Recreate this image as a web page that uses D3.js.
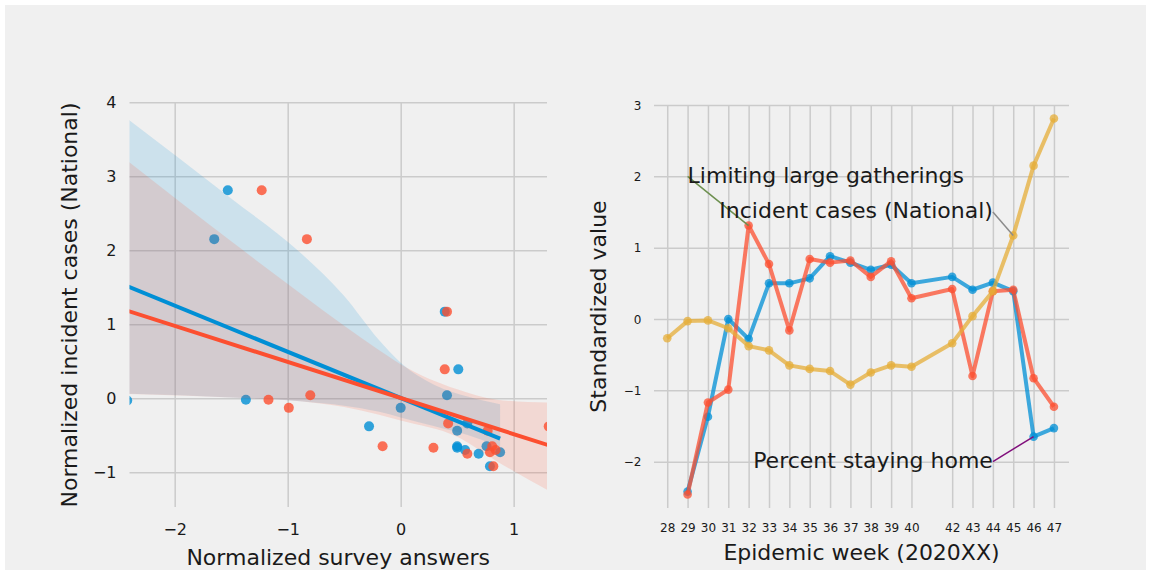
<!DOCTYPE html>
<html><head><meta charset="utf-8">
<script src="https://cdn.jsdelivr.net/npm/d3@7"></script>
<style>
body{margin:0;background:#fff}
svg{display:block}
text{font-family:"DejaVu Sans",sans-serif;fill:#1a1a1a}
</style>
</head><body>
<svg id="c" width="1151" height="575"></svg>
<script>
// ---------------- data ----------------
const weeks = [28,29,30,31,32,33,34,35,36,37,38,39,40,42,43,44,45,46,47];
const incidentCases = [-0.27,-0.03,-0.02,-0.13,-0.38,-0.44,-0.65,-0.70,-0.73,-0.92,-0.75,-0.65,-0.67,-0.34,0.04,0.39,1.17,2.15,2.81];
const stayingHome = [null,-2.42,-1.37,0.00,-0.28,0.50,0.50,0.57,0.88,0.79,0.69,0.76,0.50,0.59,0.41,0.51,0.39,-1.65,-1.53];
const limitingGatherings = [null,-2.46,-1.17,-0.99,1.31,0.77,-0.16,0.84,0.79,0.82,0.59,0.81,0.29,0.42,-0.80,0.39,0.41,-0.83,-1.23];

const weekTicks = [28,29,30,31,32,33,34,35,36,37,38,39,40,42,43,44,45,46,47];
const rightYTicks = [-2,-1,0,1,2,3];
const leftXTicks = [-2,-1,0,1];
const leftYTicks = [-1,0,1,2,3,4];

// 95% confidence bands of the fits
const blueBandX  = [-2.42,-1.5,-0.89,-0.5,-0.2,0.0,0.3,0.6,0.88];
const blueBandHi = [3.78,2.70,1.97,1.38,0.80,0.48,0.18,0.02,-0.08];
const blueBandLo = [0.06,0.01,-0.04,-0.10,-0.18,-0.26,-0.38,-0.50,-0.66];
const redBandX   = [-2.46,-1.5,-0.89,-0.5,-0.2,0.0,0.5,0.85,1.31];
const redBandHi  = [3.26,2.12,1.42,0.98,0.66,0.46,0.12,-0.02,-0.06];
const redBandLo  = [0.06,0.01,-0.04,-0.12,-0.22,-0.30,-0.52,-0.85,-1.25];

const annotations = [
  {text:"Limiting large gatherings", tx:29, ty:2, anchor:"start", week:32, series:"limiting", color:"#6d904f"},
  {text:"Incident cases (National)", tx:44, ty:1.5, anchor:"end", week:45, series:"incident", color:"#8b8b8b"},
  {text:"Percent staying home", tx:44, ty:-2, anchor:"end", week:46, series:"staying", color:"#810f7c"}
];

const BLUE = "#008fd5", RED = "#fc4f30", YELLOW = "#e5ae38", GRID = "#cbcbcb";
const minus = v => String(v).replace("-", "\u2212");

const svg = d3.select("#c");
svg.append("rect").attr("x",5).attr("y",5).attr("width",1141).attr("height",565).attr("fill","#f0f0f0");

// ---------------- left panel ----------------
const L = {x0:129.5, x1:547, y0:103, y1:507};
const lx = d3.scaleLinear().domain([-2.40, 1.295]).range([L.x0, L.x1]);
const ly = d3.scaleLinear().domain([-1.47, 3.99]).range([L.y1, L.y0]);

svg.append("clipPath").attr("id","clipL").append("rect")
  .attr("x",L.x0).attr("y",L.y0).attr("width",L.x1-L.x0).attr("height",L.y1-L.y0);

const gL = svg.append("g");
const axLX = gL.append("g").attr("transform",`translate(0,${L.y1})`)
  .call(d3.axisBottom(lx).tickValues(leftXTicks).tickSize(-(L.y1-L.y0)).tickFormat(minus));
const axLY = gL.append("g").attr("transform",`translate(${L.x0},0)`)
  .call(d3.axisLeft(ly).tickValues(leftYTicks).tickSize(-(L.x1-L.x0)).tickFormat(minus));
[axLX, axLY].forEach(a => {
  a.select(".domain").remove();
  a.selectAll("line").attr("stroke",GRID).attr("stroke-width",1.5);
  a.selectAll("text").attr("font-size",16).attr("fill","#1a1a1a").attr("font-family","DejaVu Sans");
});
axLX.selectAll("text").attr("y",28).attr("dy",0);
axLY.selectAll("text").attr("x",-13).attr("dy","0.34em");

const plotL = gL.append("g").attr("clip-path","url(#clipL)");

function pairs(vals){
  const out = [];
  weeks.forEach((w,i)=>{ if(vals[i]!==null) out.push({x:vals[i], y:incidentCases[i]}); });
  return out;
}
function ols(pts){
  const mx = d3.mean(pts,d=>d.x), my = d3.mean(pts,d=>d.y);
  const sxy = d3.sum(pts,d=>(d.x-mx)*(d.y-my)), sxx = d3.sum(pts,d=>(d.x-mx)**2);
  const b = sxy/sxx; return {b, a: my - b*mx};
}
const bluePts = pairs(stayingHome), redPts = pairs(limitingGatherings);
const band = d3.area().curve(d3.curveMonotoneX).x(d=>lx(d.x)).y0(d=>ly(d.lo)).y1(d=>ly(d.hi));

function drawSeries(pts, color, bx, bhi, blo){
  plotL.append("g").selectAll("circle").data(pts).join("circle")
    .attr("cx",d=>lx(d.x)).attr("cy",d=>ly(d.y)).attr("r",5)
    .attr("fill",color).attr("fill-opacity",0.8);
  const bd = bx.map((x,i)=>({x, hi:bhi[i], lo:blo[i]}));
  plotL.append("path").datum(bd).attr("d",band).attr("fill",color).attr("fill-opacity",0.15);
}
drawSeries(bluePts, BLUE, blueBandX, blueBandHi, blueBandLo);
drawSeries(redPts, RED, redBandX, redBandHi, redBandLo);
[[bluePts,BLUE],[redPts,RED]].forEach(([pts,color])=>{
  const f = ols(pts), ext = d3.extent(pts,d=>d.x);
  plotL.append("line")
    .attr("x1",lx(ext[0])).attr("y1",ly(f.a+f.b*ext[0]))
    .attr("x2",lx(ext[1])).attr("y2",ly(f.a+f.b*ext[1]))
    .attr("stroke",color).attr("stroke-width",4);
});

svg.append("text").attr("x",(L.x0+L.x1)/2).attr("y",565).attr("text-anchor","middle")
  .attr("font-size",22).text("Normalized survey answers");
svg.append("text").attr("transform",`translate(77,${(L.y0+L.y1)/2}) rotate(-90)`)
  .attr("text-anchor","middle").attr("font-size",22).text("Normalized incident cases (National)");

// ---------------- right panel ----------------
const R = {x0:654, x1:1069, y0:105, y1:508};
const rx = d3.scaleLinear().domain([27.35, 47.74]).range([R.x0, R.x1]);
const ry = d3.scaleLinear().domain([-2.65, 3.0]).range([R.y1, R.y0]);
const gR = svg.append("g");
const axRX = gR.append("g").attr("transform",`translate(0,${R.y1})`)
  .call(d3.axisBottom(rx).tickValues(weekTicks).tickSize(-(R.y1-R.y0)).tickFormat(d=>String(d)));
const axRY = gR.append("g").attr("transform",`translate(${R.x0},0)`)
  .call(d3.axisLeft(ry).tickValues(rightYTicks).tickSize(-(R.x1-R.x0)).tickFormat(minus));
[axRX, axRY].forEach(a => {
  a.select(".domain").remove();
  a.selectAll("line").attr("stroke",GRID).attr("stroke-width",1.5);
  a.selectAll("text").attr("font-size",12).attr("fill","#1a1a1a").attr("font-family","DejaVu Sans");
});
axRX.selectAll("text").attr("y",23.5).attr("dy",0);
axRY.selectAll("text").attr("x",-12.5).attr("dy","0.34em");

const seriesR = [
  {key:"staying", vals:stayingHome, color:BLUE},
  {key:"limiting", vals:limitingGatherings, color:RED},
  {key:"incident", vals:incidentCases, color:YELLOW}
];
const lineR = d3.line().defined(d=>d.v!==null).x(d=>rx(d.w)).y(d=>ry(d.v));
seriesR.forEach(s=>{
  const pts = weeks.map((w,i)=>({w, v:s.vals[i]}));
  gR.append("path").datum(pts).attr("d",lineR).attr("fill","none")
    .attr("stroke",s.color).attr("stroke-width",4).attr("stroke-opacity",0.75).attr("stroke-linejoin","round");
  gR.append("g").selectAll("circle").data(pts.filter(d=>d.v!==null)).join("circle")
    .attr("cx",d=>rx(d.w)).attr("cy",d=>ry(d.v)).attr("r",4.3)
    .attr("fill",s.color).attr("fill-opacity",0.75);
});

annotations.forEach(a=>{
  const s = seriesR.find(q=>q.key===a.series);
  const v = s.vals[weeks.indexOf(a.week)];
  gR.append("line").attr("x1",rx(a.tx)).attr("y1",ry(a.ty)).attr("x2",rx(a.week)).attr("y2",ry(v))
    .attr("stroke",a.color).attr("stroke-width",1.5);
  gR.append("text").attr("x",rx(a.tx)).attr("y",ry(a.ty)+6.5).attr("text-anchor",a.anchor)
    .attr("font-size",22).text(a.text);
});

svg.append("text").attr("x",(R.x0+R.x1)/2).attr("y",560).attr("text-anchor","middle")
  .attr("font-size",22).text("Epidemic week (2020XX)");
svg.append("text").attr("transform",`translate(606,${(R.y0+R.y1)/2}) rotate(-90)`)
  .attr("text-anchor","middle").attr("font-size",22).text("Standardized value");
</script>
</body></html>
